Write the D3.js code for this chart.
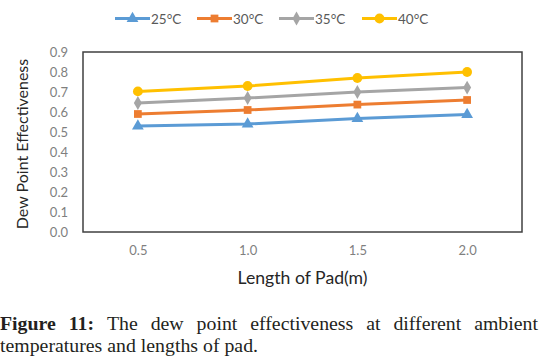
<!DOCTYPE html>
<html>
<head>
<meta charset="utf-8">
<script src="https://cdn.jsdelivr.net/npm/d3@7"></script>
<style>
  body { margin: 0; background: #fff; }
  svg { display: block; }
</style>
</head>
<body>
<script>
var width = 539, height = 360;

var lengths = ["0.5", "1.0", "1.5", "2.0"];
var temps = ["25°C", "30°C", "35°C", "40°C"];
var eff25 = [0.53, 0.54, 0.567, 0.587];
var eff30 = [0.59, 0.61, 0.637, 0.66];
var eff35 = [0.645, 0.67, 0.70, 0.722];
var eff40 = [0.703, 0.73, 0.77, 0.80];
var yTicks = [0, 0.1, 0.2, 0.3, 0.4, 0.5, 0.6, 0.7, 0.8, 0.9];

var colors = ["#5b9bd5", "#ed7d31", "#a5a5a5", "#ffc000"];
var symbols = [d3.symbolTriangle, d3.symbolSquare, d3.symbolDiamond, d3.symbolCircle];
var symSizes = [60, 60, 55, 75];
var series = [eff25, eff30, eff35, eff40];

var plot = {left: 83, right: 522, top: 52, bottom: 232};
var font = "Lato, 'Open Sans', sans-serif";

var svg = d3.select("body").append("svg")
    .attr("width", width)
    .attr("height", height);

var x = d3.scalePoint()
    .domain(lengths)
    .range([plot.left, plot.right])
    .padding(0.5);

var y = d3.scaleLinear()
    .domain([0, 0.9])
    .range([plot.bottom, plot.top]);

// plot frame
svg.append("rect")
    .attr("x", plot.left)
    .attr("y", plot.top)
    .attr("width", plot.right - plot.left)
    .attr("height", plot.bottom - plot.top)
    .attr("fill", "none")
    .attr("stroke", "#404040")
    .attr("stroke-width", 1.5);

// y axis labels
var yAxis = d3.axisLeft(y).tickValues(yTicks).tickFormat(d3.format(".1f")).tickSize(0).tickPadding(15);
svg.append("g")
    .attr("transform", "translate(" + plot.left + ",0)")
    .call(yAxis)
    .call(function(g) { g.select(".domain").remove(); })
    .selectAll("text")
    .attr("fill", "#7f7f7f")
    .style("font-family", font)
    .style("font-size", "13px");

// x axis labels
var xAxis = d3.axisBottom(x).tickSize(0).tickPadding(14);
svg.append("g")
    .attr("transform", "translate(0," + plot.bottom + ")")
    .call(xAxis)
    .call(function(g) { g.select(".domain").remove(); })
    .selectAll("text")
    .attr("fill", "#7f7f7f")
    .style("font-family", font)
    .style("font-size", "13px");

// axis titles
svg.append("text")
    .attr("x", (plot.left + plot.right) / 2)
    .attr("y", 284)
    .attr("text-anchor", "middle")
    .attr("fill", "#262626")
    .attr("textLength", 130)
    .attr("lengthAdjust", "spacingAndGlyphs")
    .style("font-family", font)
    .style("font-size", "16.5px")
    .text("Length of Pad(m)");

svg.append("text")
    .attr("transform", "translate(28," + ((plot.top + plot.bottom) / 2 + 2) + ") rotate(-90)")
    .attr("text-anchor", "middle")
    .attr("fill", "#262626")
    .style("font-family", font)
    .style("font-size", "16px")
    .text("Dew Point Effectiveness");

// series lines and markers
var line = d3.line()
    .x(function(d, i) { return x(lengths[i]); })
    .y(function(d) { return y(d); });

series.forEach(function(vals, s) {
    svg.append("path")
        .datum(vals)
        .attr("d", line)
        .attr("fill", "none")
        .attr("stroke", colors[s])
        .attr("stroke-width", 3);

    svg.selectAll(".m" + s)
        .data(vals)
        .enter().append("path")
        .attr("class", "m" + s)
        .attr("transform", function(d, i) { return "translate(" + x(lengths[i]) + "," + y(d) + ")"; })
        .attr("d", d3.symbol().type(symbols[s]).size(symSizes[s]))
        .attr("fill", colors[s]);
});

// legend
var legendX = [115, 197, 279, 362];
var legend = svg.append("g");
temps.forEach(function(t, s) {
    var lx = legendX[s], ly = 18.5;
    legend.append("line")
        .attr("x1", lx).attr("x2", lx + 35)
        .attr("y1", ly).attr("y2", ly)
        .attr("stroke", colors[s])
        .attr("stroke-width", 3);
    legend.append("path")
        .attr("transform", "translate(" + (lx + 17.5) + "," + ly + ")")
        .attr("d", d3.symbol().type(symbols[s]).size(symSizes[s]))
        .attr("fill", colors[s]);
    legend.append("text")
        .attr("x", lx + 36)
        .attr("y", ly + 5)
        .attr("fill", "#595959")
        .style("font-family", font)
        .style("font-size", "13.5px")
        .text(t);
});

// caption: serif, widened a bit to match the original typeface, first line justified
var capFont = "'Liberation Serif', 'DejaVu Serif', serif";
var cap = svg.append("g").style("font-family", capFont).style("font-size", "18px").attr("fill", "#231f20");

var line2 = cap.append("text")
    .attr("x", 0)
    .attr("y", 352)
    .text("temperatures and lengths of pad.");
var stretch = 258 / line2.node().getComputedTextLength();
line2.attr("textLength", 258).attr("lengthAdjust", "spacingAndGlyphs");

var words1 = ["Figure", "11:", "The", "dew", "point", "effectiveness", "at", "different", "ambient"];
var wNodes = words1.map(function(w, i) {
    return cap.append("text")
        .attr("y", 330)
        .style("font-weight", i < 2 ? "bold" : "normal")
        .text(w);
});
var widths = wNodes.map(function(n) { return n.node().getComputedTextLength() * stretch; });
var gap = (width - 1 - d3.sum(widths)) / (words1.length - 1);
var cx = 0;
wNodes.forEach(function(n, i) {
    n.attr("x", cx)
        .attr("textLength", widths[i])
        .attr("lengthAdjust", "spacingAndGlyphs");
    cx += widths[i] + gap;
});
</script>
</body>
</html>
